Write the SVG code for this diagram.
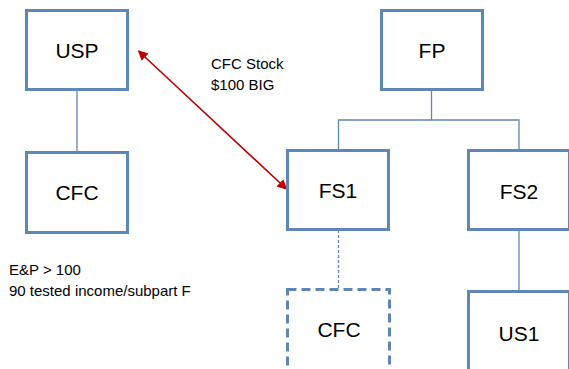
<svg xmlns="http://www.w3.org/2000/svg" width="569" height="369" viewBox="0 0 569 369">
<style>
.box{fill:#ffffff;stroke:#5f87b5;stroke-width:3}
.dashed{stroke-dasharray:9,5}
.lbl{font-family:"Liberation Sans",Arial,sans-serif;font-size:21px;fill:#000;text-anchor:middle}
.note{font-family:"Liberation Sans",Arial,sans-serif;font-size:15px;fill:#000}
.conn{fill:none;stroke:#5f87b5;stroke-width:1.3}
</style>
<defs>
<marker id="ah" viewBox="0 0 10 10" refX="9" refY="5" markerWidth="10" markerHeight="10" markerUnits="userSpaceOnUse" orient="auto-start-reverse">
<path d="M0,0 L10,5 L0,10 z" fill="#c00000"/>
</marker>
</defs>
<rect width="569" height="369" fill="#ffffff"/>
<g id="connectors">
<line class="conn" x1="77" y1="90" x2="77" y2="152" stroke="#8eaacb"/>
<polyline class="conn" points="431.5,90 431.5,120 338.5,120 338.5,150"/>
<polyline class="conn" points="431.5,120 519,120 519,150"/>
<line class="conn" x1="338.5" y1="230" x2="338.5" y2="288" stroke-dasharray="3,2"/>
<line class="conn" x1="519" y1="230" x2="519" y2="291"/>
<line x1="138.5" y1="51" x2="286.5" y2="189" stroke="#c00000" stroke-width="1.6" marker-start="url(#ah)" marker-end="url(#ah)"/>
</g>
<g id="USP">
<rect class="box" x="26.5" y="10.5" width="101" height="79"/>
<text class="lbl" x="77" y="58">USP</text>
</g>
<g id="CFC1">
<rect class="box" x="26.5" y="152.5" width="101" height="80"/>
<text class="lbl" x="77" y="200">CFC</text>
</g>
<g id="FP">
<rect class="box" x="381.5" y="10.5" width="101" height="79"/>
<text class="lbl" x="432" y="58">FP</text>
</g>
<g id="FS1">
<rect class="box" x="287.5" y="150.5" width="101" height="79"/>
<text class="lbl" x="338" y="198">FS1</text>
</g>
<g id="FS2">
<rect class="box" x="468.5" y="150.5" width="101" height="79"/>
<text class="lbl" x="519" y="199">FS2</text>
</g>
<g id="CFC2">
<rect class="box dashed" x="287.5" y="289.5" width="102" height="90"/>
<text class="lbl" x="339" y="337">CFC</text>
</g>
<g id="US1">
<rect class="box" x="468.5" y="291.5" width="101" height="90"/>
<text class="lbl" x="519" y="341">US1</text>
</g>
<g id="notes">
<text class="note" x="211" y="69">CFC Stock</text>
<text class="note" x="211" y="90">$100 BIG</text>
<text class="note" x="9" y="275">E&amp;P &gt; 100</text>
<text class="note" x="9" y="296">90 tested income/subpart F</text>
</g>
</svg>
